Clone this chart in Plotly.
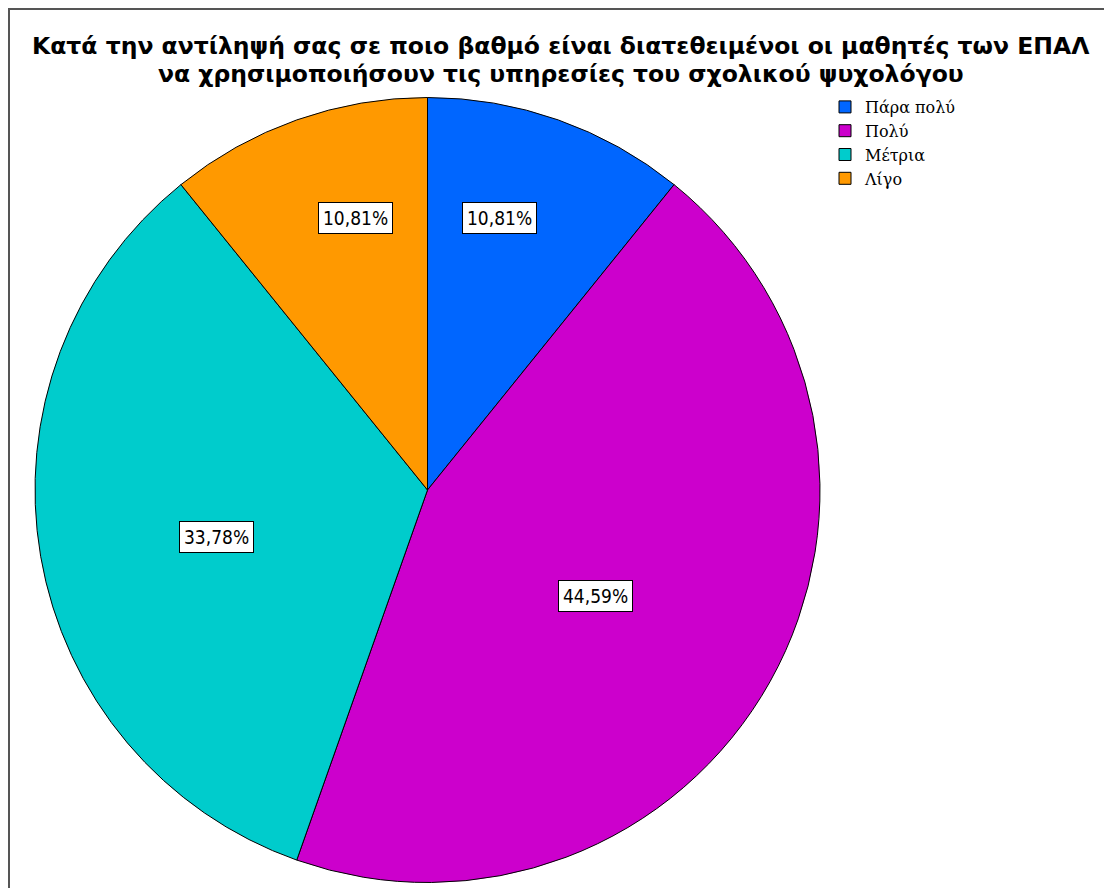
import math
import plotly.graph_objects as go

# ---- data ----
categories = ["Πάρα πολύ", "Πολύ", "Μέτρια", "Λίγο"]
percentages = [10.81, 44.59, 33.78, 10.81]
slice_colors = ["#0066FF", "#CC00CC", "#00CCCC", "#FF9900"]
title_lines = [
    "Κατά την αντίληψή σας σε ποιο βαθμό είναι διατεθειμένοι οι μαθητές των ΕΠΑΛ",
    "να χρησιμοποιήσουν τις υπηρεσίες του σχολικού ψυχολόγου",
]

# ---- layout / style (pixel positions are in figure coordinates) ----
W, H = 1112, 888
CX, CY, R = 419.5, 482.0, 392.5            # pie centre and radius
label_radius = [0.717, 0.507, 0.55, 0.717]  # radial position of boxed labels
label_shift_deg = [-4.6, 3.0, -2.8, 4.6]    # angular nudge of boxed labels

dom_x = [(CX - R) / W, (CX + R) / W]
dom_y = [(H - CY - R) / H, (H - CY + R) / H]

fig = go.Figure()
fig.add_trace(go.Pie(
    labels=categories,
    values=percentages,
    sort=False,
    direction="clockwise",
    rotation=0,
    marker=dict(colors=slice_colors, line=dict(color="#000000", width=1)),
    textinfo="none",
    hoverinfo="label+percent",
    domain=dict(x=dom_x, y=dom_y),
    showlegend=True,
))

# boxed percentage labels, placed along each slice's mid-angle
total = sum(percentages)
cum = 0.0
annotations = []
for v, rf, sh in zip(percentages, label_radius, label_shift_deg):
    mid = (cum + v / 2) / total * 2 * math.pi + math.radians(sh)
    cum += v
    px = CX + rf * R * math.sin(mid)
    py = CY - rf * R * math.cos(mid)
    annotations.append(dict(
        x=px / W, y=1 - py / H, xref="paper", yref="paper",
        text=f"{v:.2f}%".replace(".", ","),
        showarrow=False,
        font=dict(family="DejaVu Sans Condensed, Liberation Sans Narrow, Arial, sans-serif",
                  size=19, color="#000000"),
        bgcolor="#FFFFFF", bordercolor="#000000", borderwidth=1, borderpad=4,
        xanchor="center", yanchor="middle",
    ))

# title, one annotation per line for tight line spacing
title_font = dict(family="DejaVu Sans, Liberation Sans, Arial, sans-serif", size=23.5,
                  color="#000000", weight="bold")
for line, yc in zip(title_lines, [38, 66]):
    annotations.append(dict(
        x=553 / W, y=1 - yc / H, xref="paper", yref="paper",
        text=line, showarrow=False, font=title_font,
        xanchor="center", yanchor="middle",
    ))

shapes = [
    dict(type="line", xref="paper", yref="paper", x0=0, x1=1, y0=1 - 1 / H, y1=1 - 1 / H,
         line=dict(color="#555555", width=2)),
    dict(type="line", xref="paper", yref="paper", x0=1 / W, x1=1 / W, y0=1, y1=0,
         line=dict(color="#555555", width=2)),
]

fig.update_layout(
    width=W, height=H,
    margin=dict(l=0, r=0, t=0, b=0),
    paper_bgcolor="#FFFFFF", plot_bgcolor="#FFFFFF",
    legend=dict(
        x=817 / W, y=1 - 82 / H, xanchor="left", yanchor="top",
        font=dict(family="DejaVu Serif, Liberation Serif, serif", size=16, color="#000000"),
        bgcolor="rgba(0,0,0,0)", itemclick=False, tracegroupgap=0,
    ),
    annotations=annotations,
    shapes=shapes,
)

fig.write_html("out.html")
